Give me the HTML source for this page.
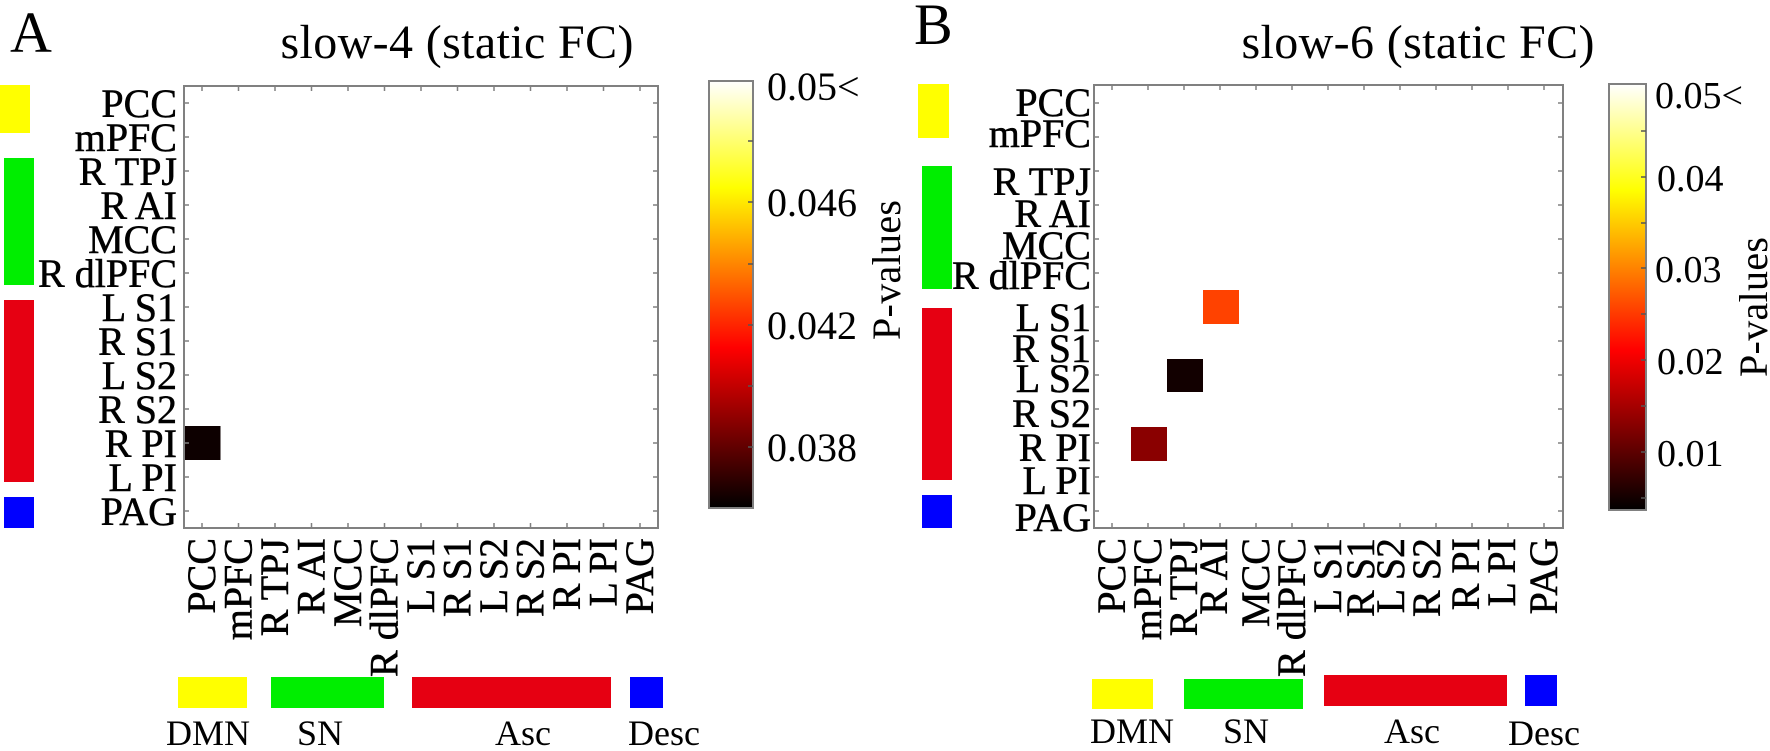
<!DOCTYPE html>
<html><head><meta charset="utf-8"><style>
html,body{margin:0;padding:0;background:#fff;}
svg{display:block;}
text{font-family:"Liberation Serif",serif;fill:#000;}
.lb{stroke:#000;stroke-width:0.5;}
</style></head><body>
<svg width="1770" height="751" viewBox="0 0 1770 751" xmlns="http://www.w3.org/2000/svg">
<defs>
<linearGradient id="hot" x1="0" y1="1" x2="0" y2="0">
<stop offset="0" stop-color="#000"/>
<stop offset="0.375" stop-color="#ff0000"/>
<stop offset="0.75" stop-color="#ffff00"/>
<stop offset="1" stop-color="#ffffff"/>
</linearGradient>
</defs>

<!-- ============ PANEL A ============ -->
<text x="10" y="52" font-size="58">A</text>
<text x="457" y="58" font-size="48" text-anchor="middle" textLength="353">slow-4 (static FC)</text>

<rect x="0" y="85" width="30" height="48" fill="#ffff00"/>
<rect x="4" y="158" width="30" height="127" fill="#00ee00"/>
<rect x="4" y="300" width="30" height="182" fill="#e60012"/>
<rect x="4" y="497" width="30" height="31" fill="#0000ff"/>

<rect x="184" y="426" width="36.5" height="34" fill="#0d0000"/>

<g stroke="#808080" stroke-width="2" fill="none">
<rect x="184" y="86" width="474" height="442"/>
</g>
<g stroke="#808080" stroke-width="1.5">
<path d="M184 103h5M184 137h5M184 171h5M184 205h5M184 239h5M184 273h5M184 307h5M184 341h5M184 375h5M184 409h5M184 443h5M184 477h5M184 511h5
M658 103h-5M658 137h-5M658 171h-5M658 205h-5M658 239h-5M658 273h-5M658 307h-5M658 341h-5M658 375h-5M658 409h-5M658 443h-5M658 477h-5M658 511h-5
M202 86v5M238.5 86v5M275 86v5M311.5 86v5M348 86v5M384.5 86v5M421 86v5M457.5 86v5M494 86v5M530.5 86v5M567 86v5M603.5 86v5M640 86v5
M202 528v-5M238.5 528v-5M275 528v-5M311.5 528v-5M348 528v-5M384.5 528v-5M421 528v-5M457.5 528v-5M494 528v-5M530.5 528v-5M567 528v-5M603.5 528v-5M640 528v-5"/>
</g>

<g font-size="40" text-anchor="end" class="lb">
<text x="177" y="117">PCC</text>
<text x="177" y="151">mPFC</text>
<text x="177" y="185">R TPJ</text>
<text x="177" y="219">R AI</text>
<text x="177" y="253">MCC</text>
<text x="177" y="287">R dlPFC</text>
<text x="177" y="321">L S1</text>
<text x="177" y="355">R S1</text>
<text x="177" y="389">L S2</text>
<text x="177" y="423">R S2</text>
<text x="177" y="457">R PI</text>
<text x="177" y="491">L PI</text>
<text x="177" y="525">PAG</text>
</g>

<g font-size="40" text-anchor="end" class="lb">
<text transform="translate(215,538) rotate(-90)">PCC</text>
<text transform="translate(251.5,538) rotate(-90)">mPFC</text>
<text transform="translate(288,538) rotate(-90)">R TPJ</text>
<text transform="translate(324.5,538) rotate(-90)">R AI</text>
<text transform="translate(361,538) rotate(-90)">MCC</text>
<text transform="translate(397.5,538) rotate(-90)">R dlPFC</text>
<text transform="translate(434,538) rotate(-90)">L S1</text>
<text transform="translate(470.5,538) rotate(-90)">R S1</text>
<text transform="translate(507,538) rotate(-90)">L S2</text>
<text transform="translate(543.5,538) rotate(-90)">R S2</text>
<text transform="translate(580,538) rotate(-90)">R PI</text>
<text transform="translate(616.5,538) rotate(-90)">L PI</text>
<text transform="translate(653,538) rotate(-90)">PAG</text>
</g>

<rect x="178" y="677" width="69" height="31" fill="#ffff00"/>
<rect x="271" y="677" width="113" height="31" fill="#00ee00"/>
<rect x="412" y="677" width="199" height="31" fill="#e60012"/>
<rect x="630" y="677" width="33" height="31" fill="#0000ff"/>
<g font-size="36" text-anchor="middle">
<text x="208" y="745">DMN</text>
<text x="320" y="745">SN</text>
<text x="523" y="745">Asc</text>
<text x="664" y="745">Desc</text>
</g>

<rect x="709" y="81" width="44" height="427" fill="url(#hot)" stroke="#808080" stroke-width="2"/>
<g stroke="#555" stroke-width="1.5">
<path d="M753 141h-5M753 202h-5M753 264h-5M753 325h-5M753 386h-5M753 447h-5"/>
</g>
<g font-size="40">
<text x="767" y="100">0.05&lt;</text>
<text x="767" y="216">0.046</text>
<text x="767" y="339">0.042</text>
<text x="767" y="461">0.038</text>
</g>
<text font-size="40" text-anchor="middle" transform="translate(900,270) rotate(-90)" textLength="140">P-values</text>

<!-- ============ PANEL B ============ -->
<text x="914" y="44" font-size="58">B</text>
<text x="1418" y="58" font-size="48" text-anchor="middle" textLength="353">slow-6 (static FC)</text>

<rect x="918" y="84" width="31" height="54" fill="#ffff00"/>
<rect x="922" y="166" width="30" height="123" fill="#00ee00"/>
<rect x="922" y="308" width="30" height="172" fill="#e60012"/>
<rect x="922" y="495" width="30" height="33" fill="#0000ff"/>

<rect x="1203" y="290" width="36" height="34" fill="#ff4200"/>
<rect x="1167" y="359" width="36" height="33" fill="#120000"/>
<rect x="1131" y="427" width="36" height="34" fill="#8a0000"/>

<g stroke="#808080" stroke-width="2" fill="none">
<rect x="1094" y="85" width="469" height="443"/>
</g>
<g stroke="#808080" stroke-width="1.5">
<path d="M1094 103h5M1094 137h5M1094 171h5M1094 205h5M1094 239h5M1094 273h5M1094 307h5M1094 341h5M1094 375h5M1094 409h5M1094 443h5M1094 477h5M1094 511h5
M1563 103h-5M1563 137h-5M1563 171h-5M1563 205h-5M1563 239h-5M1563 273h-5M1563 307h-5M1563 341h-5M1563 375h-5M1563 409h-5M1563 443h-5M1563 477h-5M1563 511h-5
M1112 85v5M1148 85v5M1184 85v5M1220 85v5M1256 85v5M1292 85v5M1328 85v5M1364 85v5M1400 85v5M1436 85v5M1472 85v5M1508 85v5M1544 85v5
M1112 528v-5M1148 528v-5M1184 528v-5M1220 528v-5M1256 528v-5M1292 528v-5M1328 528v-5M1364 528v-5M1400 528v-5M1436 528v-5M1472 528v-5M1508 528v-5M1544 528v-5"/>
</g>

<g font-size="40" text-anchor="end" class="lb">
<text x="1091" y="116">PCC</text>
<text x="1091" y="147">mPFC</text>
<text x="1091" y="195">R TPJ</text>
<text x="1091" y="227">R AI</text>
<text x="1091" y="259">MCC</text>
<text x="1091" y="289">R dlPFC</text>
<text x="1091" y="331">L S1</text>
<text x="1091" y="362">R S1</text>
<text x="1091" y="392">L S2</text>
<text x="1091" y="427">R S2</text>
<text x="1091" y="461">R PI</text>
<text x="1091" y="494">L PI</text>
<text x="1091" y="531">PAG</text>
</g>

<g font-size="40" text-anchor="end" class="lb">
<text transform="translate(1125,538) rotate(-90)">PCC</text>
<text transform="translate(1161,538) rotate(-90)">mPFC</text>
<text transform="translate(1197,538) rotate(-90)">R TPJ</text>
<text transform="translate(1227,538) rotate(-90)">R AI</text>
<text transform="translate(1269,538) rotate(-90)">MCC</text>
<text transform="translate(1305,538) rotate(-90)">R dlPFC</text>
<text transform="translate(1341,538) rotate(-90)">L S1</text>
<text transform="translate(1374,538) rotate(-90)">R S1</text>
<text transform="translate(1404,538) rotate(-90)">L S2</text>
<text transform="translate(1440,538) rotate(-90)">R S2</text>
<text transform="translate(1479,538) rotate(-90)">R PI</text>
<text transform="translate(1515,538) rotate(-90)">L PI</text>
<text transform="translate(1557,538) rotate(-90)">PAG</text>
</g>

<rect x="1092" y="679" width="61" height="30" fill="#ffff00"/>
<rect x="1184" y="679" width="119" height="30" fill="#00ee00"/>
<rect x="1324" y="675" width="183" height="31" fill="#e60012"/>
<rect x="1525" y="675" width="32" height="31" fill="#0000ff"/>
<g font-size="36" text-anchor="middle">
<text x="1132" y="743">DMN</text>
<text x="1246" y="743">SN</text>
<text x="1412" y="743">Asc</text>
<text x="1544" y="745">Desc</text>
</g>

<rect x="1609" y="84" width="37" height="426" fill="url(#hot)" stroke="#808080" stroke-width="2"/>
<g stroke="#555" stroke-width="1.5">
<path d="M1646 131h-5M1646 177h-5M1646 223h-5M1646 268h-5M1646 314h-5M1646 360h-5M1646 406h-5M1646 452h-5M1646 498h-5"/>
</g>
<g font-size="38">
<text x="1655" y="108">0.05&lt;</text>
<text x="1657" y="191">0.04</text>
<text x="1655" y="282">0.03</text>
<text x="1657" y="374">0.02</text>
<text x="1657" y="466">0.01</text>
</g>
<text font-size="40" text-anchor="middle" transform="translate(1767,307) rotate(-90)" textLength="140">P-values</text>
</svg>
</body></html>
